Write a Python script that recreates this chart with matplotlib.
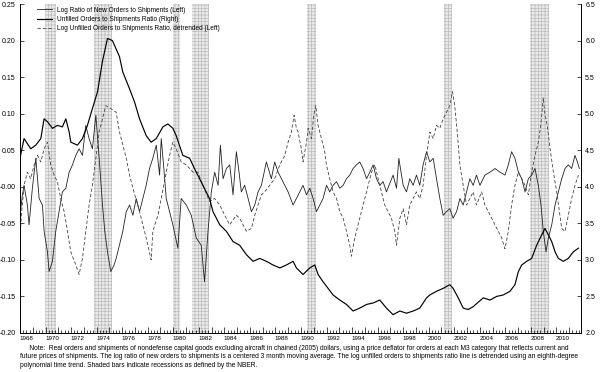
import numpy as np
import matplotlib
matplotlib.use('Agg')
import matplotlib.pyplot as plt

plt.rcParams['font.family'] = ['Liberation Sans', 'DejaVu Sans']
plt.rcParams['hatch.linewidth'] = 0.5

# 데이터
# Log Ratio of New Orders to Shipments (Left)
new_t = [1968.00, 1968.19, 1968.32, 1968.58, 1968.71, 1968.97, 1969.24, 1969.50, 1969.76, 1969.89,
         1970.15, 1970.28, 1970.54, 1970.80, 1971.06, 1971.32, 1971.59, 1971.85, 1972.11, 1972.37,
         1972.63, 1972.89, 1973.15, 1973.41, 1973.67, 1973.94, 1974.20, 1974.46, 1974.64, 1974.85,
         1975.11, 1975.37, 1975.53, 1976.05, 1976.32, 1976.58, 1976.84, 1977.10, 1977.36, 1977.62,
         1977.88, 1978.14, 1978.40, 1978.67, 1978.93, 1979.06, 1979.24, 1979.45, 1979.71, 1979.97,
         1980.36, 1980.62, 1981.02, 1981.41, 1981.80, 1982.19, 1982.45, 1982.72, 1982.98, 1983.24,
         1983.51, 1983.69, 1983.90, 1984.16, 1984.42, 1984.68, 1984.94, 1985.15, 1985.33, 1985.59,
         1985.86, 1986.12, 1986.38, 1986.64, 1986.90, 1987.29, 1987.68, 1987.94, 1988.21, 1988.47,
         1988.73, 1988.99, 1989.38, 1989.64, 1989.90, 1990.16, 1990.43, 1990.69, 1990.95, 1991.21,
         1991.47, 1991.73, 1992.00, 1992.25, 1992.51, 1992.78, 1993.04, 1993.30, 1993.56, 1993.82,
         1994.08, 1994.34, 1994.60, 1994.86, 1995.13, 1995.39, 1995.65, 1995.91, 1996.17, 1996.43,
         1996.69, 1997.21, 1997.48, 1997.66, 1998.00, 1998.26, 1998.52, 1998.78, 1999.04, 1999.30,
         1999.56, 1999.83, 2000.09, 2000.35, 2000.61, 2000.87, 2001.13, 2001.39, 2001.65, 2001.91,
         2002.18, 2002.44, 2002.70, 2002.96, 2003.22, 2003.48, 2003.74, 2004.01, 2004.40, 2004.80,
         2005.19, 2005.58, 2005.97, 2006.23, 2006.49, 2006.75, 2007.02, 2007.28, 2007.54, 2007.80,
         2008.06, 2008.32, 2008.58, 2008.79, 2008.97, 2009.18, 2009.37, 2009.63, 2009.89, 2010.15,
         2010.41, 2010.67, 2010.93, 2011.19, 2011.45, 2011.64, 2011.79]
new_v = [-0.039, -0.011, 0.002, -0.025, -0.052, -0.002, 0.039, -0.016, -0.025, -0.061,
         -0.089, -0.116, -0.102, -0.061, -0.034, -0.007, -0.002, 0.020, 0.030, 0.043,
         0.052, 0.043, 0.084, 0.066, 0.052, 0.098, 0.039, -0.025, -0.061, -0.089,
         -0.116, -0.107, -0.098, -0.061, -0.034, -0.025, -0.039, -0.016, -0.034, -0.016,
         0.002, 0.025, 0.039, 0.057, 0.016, 0.066, 0.030, -0.016, -0.034, -0.052,
         -0.084, -0.016, -0.025, -0.039, -0.070, -0.080, -0.130, -0.061, -0.007, 0.020,
         0.002, 0.057, 0.011, 0.025, 0.030, -0.011, 0.048, 0.020, -0.007, 0.002,
         -0.016, -0.034, -0.025, -0.007, 0.002, 0.034, 0.011, 0.034, 0.020, 0.011,
         0.002, -0.007, -0.025, -0.016, -0.007, 0.002, -0.011, -0.002, -0.016, -0.034,
         -0.025, -0.016, 0.002, -0.007, 0.002, 0.007, -0.002, 0.002, 0.011, 0.016,
         0.025, 0.030, 0.034, 0.025, 0.011, 0.020, 0.030, 0.011, 0.002, 0.007,
         -0.007, 0.016, -0.002, 0.039, 0.002, -0.007, 0.011, 0.002, 0.016, 0.002,
         0.030, 0.048, 0.034, 0.039, 0.011, -0.016, -0.039, -0.034, -0.030, -0.043,
         -0.034, -0.016, -0.025, -0.007, 0.011, 0.002, 0.016, 0.002, 0.016, 0.020,
         0.025, 0.020, 0.016, 0.030, 0.048, 0.039, 0.020, 0.011, -0.007, 0.011,
         0.016, 0.025, 0.002, -0.025, -0.061, -0.089, -0.070, -0.052, -0.025, -0.007,
         0.011, 0.025, 0.030, 0.025, 0.043, 0.034, 0.025]

# Unfilled Orders to Shipments Ratio (Right)
unf_t = [1968.00, 1968.32, 1968.84, 1969.24, 1969.63, 1969.89, 1970.15, 1970.54, 1970.93, 1971.32,
         1971.59, 1971.85, 1971.98, 1972.50, 1972.89, 1973.28, 1973.67, 1974.07, 1974.46, 1974.85,
         1975.24, 1975.79, 1976.05, 1976.58, 1976.97, 1977.36, 1977.88, 1978.27, 1978.67, 1979.19,
         1979.58, 1979.97, 1980.23, 1980.75, 1981.28, 1981.80, 1982.32, 1982.84, 1983.11, 1983.64,
         1984.16, 1984.68, 1985.20, 1985.73, 1986.25, 1986.77, 1987.29, 1987.81, 1988.34, 1988.86,
         1989.38, 1989.64, 1990.16, 1990.69, 1991.08, 1991.34, 1991.73, 1992.12, 1992.51, 1993.04,
         1993.56, 1994.08, 1994.60, 1995.13, 1995.65, 1996.17, 1996.69, 1997.21, 1997.74, 1998.26,
         1998.78, 1999.30, 1999.83, 2000.09, 2000.61, 2001.13, 2001.65, 2001.91, 2002.31, 2002.70,
         2003.09, 2003.48, 2004.27, 2004.80, 2005.32, 2005.84, 2006.36, 2006.75, 2007.02, 2007.28,
         2007.67, 2008.06, 2008.45, 2008.84, 2009.10, 2009.37, 2009.63, 2009.89, 2010.15, 2010.54,
         2010.93, 2011.32, 2011.72]
unf_v = [4.39, 4.66, 4.52, 4.57, 4.66, 4.93, 4.89, 4.80, 4.84, 4.82,
         4.93, 4.75, 4.61, 4.57, 4.66, 4.84, 5.07, 5.30, 5.72, 6.03,
         6.00, 5.78, 5.57, 5.34, 5.16, 4.93, 4.70, 4.61, 4.66, 4.82,
         4.86, 4.80, 4.70, 4.43, 4.39, 4.20, 4.02, 3.84, 3.66, 3.48,
         3.39, 3.25, 3.20, 3.07, 2.98, 3.02, 2.98, 2.93, 2.89, 2.93,
         2.98, 2.89, 2.80, 2.89, 2.93, 2.80, 2.70, 2.61, 2.52, 2.45,
         2.39, 2.30, 2.34, 2.39, 2.41, 2.45, 2.34, 2.25, 2.30, 2.27,
         2.30, 2.34, 2.48, 2.52, 2.57, 2.61, 2.66, 2.61, 2.48, 2.34,
         2.32, 2.36, 2.48, 2.45, 2.50, 2.52, 2.57, 2.66, 2.84, 2.93,
         2.98, 3.02, 3.20, 3.34, 3.43, 3.34, 3.25, 3.11, 3.02, 2.98,
         3.02, 3.11, 3.16]

# Log Unfilled Orders to Shipments Ratio, detrended (Left)
det_t = [1968.00, 1968.11, 1968.32, 1968.58, 1968.84, 1969.11, 1969.37, 1969.63, 1969.89, 1970.15,
         1970.41, 1970.67, 1970.93, 1971.19, 1971.46, 1971.72, 1971.98, 1972.37, 1972.63, 1972.89,
         1973.15, 1973.41, 1973.67, 1973.94, 1974.20, 1974.46, 1974.72, 1975.11, 1975.53, 1975.79,
         1976.32, 1976.58, 1976.84, 1977.36, 1977.88, 1978.27, 1978.40, 1978.80, 1979.06, 1979.45,
         1979.71, 1979.97, 1980.23, 1980.62, 1981.02, 1981.54, 1981.93, 1982.32, 1982.84, 1983.24,
         1983.64, 1984.03, 1984.42, 1984.94, 1985.20, 1985.46, 1985.73, 1986.12, 1986.38, 1986.64,
         1986.90, 1987.16, 1987.55, 1987.94, 1988.34, 1988.73, 1988.99, 1989.25, 1989.46, 1989.64,
         1989.77, 1990.03, 1990.16, 1990.43, 1990.56, 1990.82, 1991.00, 1991.16, 1991.34, 1991.60,
         1991.86, 1991.99, 1992.25, 1992.51, 1992.78, 1993.04, 1993.30, 1993.56, 1993.82, 1993.95,
         1994.21, 1994.47, 1994.73, 1995.00, 1995.26, 1995.52, 1995.78, 1996.04, 1996.30, 1996.56,
         1996.82, 1997.08, 1997.34, 1997.48, 1997.74, 1998.00, 1998.26, 1998.52, 1998.78, 1999.04,
         1999.30, 1999.56, 1999.83, 2000.09, 2000.35, 2000.61, 2000.87, 2001.13, 2001.39, 2001.65,
         2001.86, 2002.04, 2002.23, 2002.44, 2002.70, 2002.96, 2003.22, 2003.48, 2003.74, 2004.14,
         2004.40, 2004.67, 2004.93, 2005.19, 2005.45, 2005.71, 2005.97, 2006.23, 2006.49, 2006.75,
         2007.02, 2007.28, 2007.54, 2007.80, 2008.06, 2008.32, 2008.58, 2008.77, 2008.97, 2009.10,
         2009.28, 2009.50, 2009.76, 2010.02, 2010.23, 2010.41, 2010.67, 2010.93, 2011.19, 2011.45,
         2011.72]
det_v = [-0.070, -0.039, 0.002, 0.020, 0.011, 0.030, 0.043, 0.034, 0.052, 0.061,
         0.030, 0.016, 0.007, -0.016, -0.034, -0.061, -0.089, -0.107, -0.120, -0.098,
         -0.061, -0.025, 0.002, 0.039, 0.075, 0.093, 0.111, 0.107, 0.102, 0.075,
         0.039, 0.016, -0.002, -0.034, -0.070, -0.100, -0.061, -0.039, -0.016, 0.020,
         0.043, 0.061, 0.052, 0.034, 0.030, 0.020, 0.020, 0.002, -0.020, -0.016,
         -0.025, -0.039, -0.052, -0.039, -0.043, -0.052, -0.061, -0.057, -0.039, -0.025,
         -0.011, -0.007, 0.002, 0.011, 0.030, 0.043, 0.061, 0.075, 0.098, 0.080,
         0.075, 0.052, 0.034, 0.061, 0.080, 0.066, 0.098, 0.111, 0.084, 0.066,
         0.048, 0.030, 0.011, -0.007, -0.016, -0.034, -0.043, -0.061, -0.080, -0.095,
         -0.070, -0.052, -0.034, -0.016, 0.002, 0.020, 0.030, 0.011, -0.007, -0.025,
         -0.034, -0.043, -0.061, -0.080, -0.043, -0.030, -0.052, -0.025, -0.016, -0.007,
         -0.016, 0.002, 0.043, 0.075, 0.066, 0.084, 0.080, 0.093, 0.102, 0.111,
         0.130, 0.111, 0.075, 0.030, 0.002, -0.025, -0.016, -0.007, -0.025, -0.007,
         -0.025, -0.034, -0.043, -0.052, -0.061, -0.070, -0.085, -0.061, -0.025, 0.002,
         0.020, 0.011, 0.002, -0.011, 0.020, 0.043, 0.061, 0.084, 0.122, 0.098,
         0.084, 0.052, 0.020, -0.007, -0.034, -0.057, -0.061, -0.039, -0.016, 0.002,
         0.016]

# NBER 경기침체 구간
rec_start = [1969.92, 1973.83, 1980.0, 1981.5, 1990.5, 2001.17, 2007.92]
rec_end = [1970.83, 1975.17, 1980.5, 1982.83, 1991.17, 2001.83, 2009.42]

left_ticks = [-0.20, -0.15, -0.10, -0.05, 0.0, 0.05, 0.10, 0.15, 0.20, 0.25]
left_labels = ['-0.20', '-0.15', '-0.10', '-0.05', '-0.00', '0.05', '0.10', '0.15', '0.20', '0.25']
right_ticks = [2.0, 2.5, 3.0, 3.5, 4.0, 4.5, 5.0, 5.5, 6.0, 6.5]
year_labels = list(range(1968, 2011, 2))

note = ("     Note:  Real orders and shipments of nondefense capital goods excluding aircraft in chained (2005) dollars, "
        "using a price deflator for orders at each M3 category that reflects current and\n"
        "future prices of shipments. The log ratio of new orders to shipments is a centered 3 month moving average. "
        "The log unfilled orders to shipments ratio line is detrended using an eighth-degree\n"
        "polynomial time trend. Shaded bars indicate recessions as defined by the NBER.")

fig = plt.figure(figsize=(6.0, 3.72), dpi=100)
ax = fig.add_axes([0.0333, 0.105, 0.935, 0.884])
ax2 = ax.twinx()

# 경기침체 음영 (점무늬 회색)
for s, e in zip(rec_start, rec_end):
    ax.axvspan(s, e, facecolor='#eaeaea', edgecolor='#bcbcbc', hatch='+++++', linewidth=0, zorder=0)

l1, = ax.plot(new_t, new_v, color='#222222', lw=0.6, zorder=3)
l3, = ax.plot(det_t, det_v, color='#444444', lw=0.6, ls=(0, (4, 2.5)), zorder=3)
l2, = ax2.plot(unf_t, unf_v, color='black', lw=0.85, zorder=3)

ax.set_xlim(1968.0, 2011.92)
ax.set_ylim(-0.20, 0.25)
ax2.set_ylim(2.0, 6.5)

ax.set_yticks(left_ticks, left_labels)
ax2.set_yticks(right_ticks, ['%.1f' % v for v in right_ticks])

# x축: 매년 긴 눈금, 분기 짧은 눈금, 라벨은 짝수년 가운데
ax.set_xticks(np.arange(1968, 2012, 1), [])
ax.set_xticks(np.arange(1968, 2012, 0.25), minor=True)
sec = ax.secondary_xaxis('bottom')
sec.set_xticks([y + 0.5 for y in year_labels], [str(y) for y in year_labels])
sec.tick_params(length=0, labelsize=4.5, pad=2.5)
sec.spines['bottom'].set_visible(False)

for a in (ax, ax2):
    a.spines['top'].set_visible(False)
    a.spines['left'].set_linewidth(0.6)
    a.spines['right'].set_linewidth(0.6)
    a.spines['bottom'].set_linewidth(0.6)
ax.tick_params(axis='x', which='major', direction='in', length=4, width=0.5)
ax.tick_params(axis='x', which='minor', direction='in', length=2, width=0.5)
ax.tick_params(axis='y', direction='in', length=3, width=0.5, labelsize=5, pad=3)
ax2.tick_params(axis='y', direction='in', length=3, width=0.5, labelsize=5, pad=3)

leg = ax.legend([l1, l2, l3],
                ['Log Ratio of New Orders to Shipments (Left)',
                 'Unfilled Orders to Shipments Ratio (Right)',
                 'Log Unfilled Orders to Shipments Ratio, detrended (Left)'],
                loc='upper left', bbox_to_anchor=(0.02, 1.01), frameon=False,
                fontsize=4.7, handlelength=2.3, handletextpad=0.8, labelspacing=0.35)

fig.text(0.033, 0.008, note, fontsize=4.75, ha='left', va='bottom', linespacing=1.35)

fig.savefig('out.png', dpi=100)
